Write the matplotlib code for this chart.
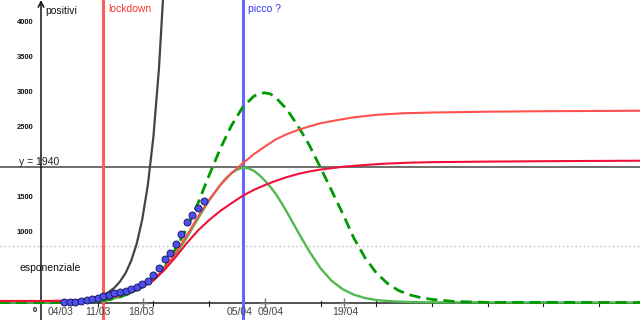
import matplotlib
matplotlib.use("Agg")
import matplotlib.pyplot as plt

plt.rcParams['font.family'] = ['Liberation Sans', 'DejaVu Sans']

# ---- data (days since 29/02, values = positivi) ----
dot_days = list(range(4, 30))
dot_vals = [5, 5, 10, 20, 35, 45, 60, 97, 107, 132, 146, 165, 189, 217, 260, 308,
            393, 489, 618, 712, 837, 980, 1147, 1252, 1348, 1452]

exp_days = [4, 6, 8, 10, 11, 12, 13, 14, 15, 16, 17, 18, 19, 20, 21, 22]
exp_vals = [15, 28, 40, 76, 107, 150, 212, 300, 420, 595, 840, 1190, 1680, 2370, 3350, 4720]

sal_days = [-8, 0, 5, 8, 11, 14, 17, 20, 22, 24, 26, 28, 30, 32, 34, 36, 38, 40, 42,
            44, 46, 48, 50, 53, 56, 60, 65, 70, 80, 90, 108]
sal_vals = [22, 22, 25, 35, 60, 107, 180, 322, 490, 710, 960, 1230, 1470, 1680, 1850,
            1990, 2120, 2230, 2335, 2410, 2470, 2520, 2565, 2610, 2650, 2685, 2708,
            2718, 2730, 2737, 2744]

cr_days = [-8, 0, 5, 8, 11, 14, 17, 20, 22, 24, 26, 28, 30, 32, 34, 36, 38, 40, 42,
           44, 46, 48, 50, 54, 58, 62, 66, 70, 80, 90, 108]
cr_vals = [22, 22, 25, 35, 60, 100, 180, 315, 470, 650, 850, 1030, 1180, 1310, 1420,
           1525, 1610, 1680, 1742, 1795, 1840, 1875, 1902, 1942, 1968, 1988, 2001,
           2008, 2016, 2022, 2029]

gr_days = [-8, 0, 6, 9, 12, 14, 16, 18, 20, 22, 24, 26, 28, 30, 32, 33, 34, 35, 36,
           37, 38, 39, 40, 41, 42, 43, 44, 46, 48, 50, 52, 54, 56, 58, 60, 63, 66, 70, 108]
gr_vals = [0, 0, 3, 10, 40, 80, 140, 220, 320, 470, 680, 930, 1200, 1460, 1680, 1775,
           1850, 1900, 1928, 1922, 1885, 1825, 1745, 1655, 1550, 1425, 1290, 1005, 730,
           490, 310, 190, 112, 64, 36, 16, 7, 2, 0]

gd_days = [-8, 0, 6, 9, 12, 14, 16, 18, 20, 22, 24, 26, 28, 30, 32, 34, 36, 38, 39,
           40, 41, 42, 44, 46, 48, 50, 52, 54, 56, 58, 60, 62, 64, 66, 68, 70, 74, 80, 108]
gd_vals = [0, 0, 3, 10, 40, 80, 140, 220, 330, 500, 770, 1060, 1420, 1820, 2200, 2530,
           2790, 2950, 2990, 3000, 2985, 2930, 2760, 2520, 2250, 1930, 1600, 1270, 920,
           640, 425, 275, 172, 110, 70, 45, 15, 2, 0]

date_labels = ["04/03", "11/03", "18/03", "05/04", "09/04", "19/04"]
date_label_days = [3.4, 10.1, 17.9, 35.5, 41.0, 54.5]
mark_days = [18.1, 40.0, 54.3]
ytick_vals = [4000, 3500, 3000, 2500, 1500, 1000]
lockdown_day = 10.95
picco_day = 36.1
hline_val = 1940
dotted_val = 810

# ---- figure ----
fig = plt.figure(figsize=(6.4, 3.2), dpi=100)
ax = fig.add_axes([0, 0, 1, 1])
ax.set_xlim(-7.54, 107.36)
ax.set_ylim(-250, 4328)
ax.axis('off')

def P(xp, yp):
    return (xp / 640.0, 1 - yp / 320.0)

# background lines
ax.axhline(dotted_val, color='#bbbbbb', ls=(0, (1, 2)), lw=1, zorder=1)
ax.axhline(hline_val, color='#555555', lw=1.2, zorder=2)
ax.axhline(0, color='#222222', lw=1.1, zorder=2)
for d in range(10, 110, 10):
    ax.plot([d, d], [-45, 15], color='#222222', lw=0.8, zorder=2)
yax = -0.18
ax.annotate('', xy=(yax, 4328), xytext=(yax, -250),
            arrowprops=dict(arrowstyle='->', lw=1.1, color='#111111',
                            shrinkA=0, shrinkB=0), zorder=2)
ax.plot(mark_days, [0] * len(mark_days), ls='none', marker='+', color='#777777',
        ms=7, mew=1, zorder=3)

ax.axvline(lockdown_day, color='#ff5e5e', lw=2.2, zorder=3)
ax.axvline(picco_day, color='#6464ff', lw=2.2, zorder=3)

# curves
ax.plot(gr_days, gr_vals, color='#52b852', lw=1.7, zorder=4)
ax.plot(gd_days, gd_vals, color='#009900', lw=2.0, ls=(0, (4, 2.2)), zorder=5)
ax.plot(sal_days, sal_vals, color='#ff5050', lw=1.5, zorder=5)
ax.plot(cr_days, cr_vals, color='#f0103c', lw=1.5, zorder=5)
ax.plot(exp_days, exp_vals, color='#444444', lw=1.6, zorder=5)

ax.plot(dot_days, dot_vals, ls='none', marker='o', ms=5.0, mfc='#5050ee',
        mec='#1a1a66', mew=0.7, zorder=6)

# texts
ax.text(*P(45, 11), 'positivi', transform=ax.transAxes, fontsize=7.5,
        color='#111111', va='center', ha='left')
ax.text(*P(108, 9), 'lockdown', transform=ax.transAxes, fontsize=7.5,
        color='#ff3333', va='center', ha='left')
ax.text(*P(248, 9), 'picco ?', transform=ax.transAxes, fontsize=7.5,
        color='#3333ff', va='center', ha='left')
ax.text(*P(19, 268), 'esponenziale', transform=ax.transAxes, fontsize=7.5,
        color='#111111', va='center', ha='left')
ax.text(*P(19, 162), 'y = 1940', transform=ax.transAxes, fontsize=7.5,
        color='#222222', va='center', ha='left')

for v in ytick_vals:
    ax.text(-1.6, v, str(v), fontsize=5.4, fontweight='bold', color='#111111',
            ha='right', va='center')
ax.text(*P(37, 311), '0', transform=ax.transAxes, fontsize=5.4, fontweight='bold',
        color='#111111', ha='right', va='center')

label_y = -136
for lab, d in zip(date_labels, date_label_days):
    ax.text(d, label_y, lab, fontsize=7.5, color='#444444', ha='center', va='center')

fig.savefig('out.png', dpi=100)
